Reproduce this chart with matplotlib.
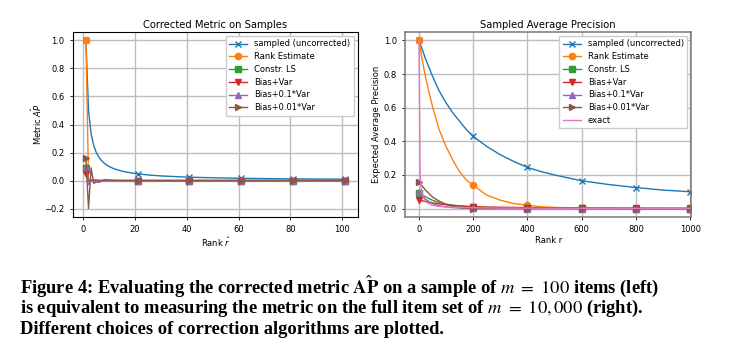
import matplotlib
matplotlib.use('Agg')
import matplotlib.pyplot as plt

# Left panel: corrected metric on a sample of 100 items
leftRank = [1, 2, 3, 4, 5, 6, 7, 8, 9, 10, 12, 15, 18, 21, 25, 30, 35, 41, 50, 61, 70, 81, 90, 101]
leftSampled = [1.0, 0.5, 0.333, 0.25, 0.2, 0.167, 0.143, 0.125, 0.111, 0.1, 0.083, 0.067,
               0.056, 0.048, 0.04, 0.033, 0.029, 0.024, 0.02, 0.016, 0.014, 0.012, 0.011, 0.01]
leftRankEst = [1.0, 0.0, 0.0, 0.0, 0.0, 0.0, 0.0, 0.0, 0.0, 0.0, 0.0, 0.0,
               0.0, 0.0, 0.0, 0.0, 0.0, 0.0, 0.0, 0.0, 0.0, 0.0, 0.0, 0.0]
leftLS = [0.09, 0.0, 0.0, 0.0, 0.0, 0.0, 0.0, 0.0, 0.0, 0.0, 0.0, 0.0,
          0.0, 0.0, 0.0, 0.0, 0.0, 0.0, 0.0, 0.0, 0.0, 0.0, 0.0, 0.0]
leftBV = [0.05, 0.0, 0.0, 0.0, 0.0, 0.0, 0.0, 0.0, 0.0, 0.0, 0.0, 0.0,
          0.0, 0.0, 0.0, 0.0, 0.0, 0.0, 0.0, 0.0, 0.0, 0.0, 0.0, 0.0]
leftBV01 = [0.10, -0.03, 0.005, 0.006, 0.005, 0.003, 0.002, 0.001, 0.0, 0.0, 0.0, 0.0,
            0.0, 0.0, 0.0, 0.0, 0.0, 0.0, 0.0, 0.0, 0.0, 0.0, 0.0, 0.0]
leftBV001 = [0.16, -0.20, 0.09, -0.02, -0.01, -0.012, -0.004, 0.004, 0.006, 0.004, 0.001, 0.0,
             0.0, 0.0, 0.0, 0.0, 0.0, 0.0, 0.0, 0.0, 0.0, 0.0, 0.0, 0.0]
leftMarks = [0, 13, 17, 19, 21, 23]

# Right panel: expected average precision on the full set of 10,000 items
rightRank = [1, 5, 10, 25, 50, 75, 100, 125, 150, 175, 200, 250, 300, 350, 400, 450, 500,
             600, 700, 800, 900, 1000]
rightSampled = [1.0, 0.98, 0.96, 0.89, 0.79, 0.70, 0.63, 0.57, 0.52, 0.47, 0.43, 0.37, 0.32,
                0.28, 0.245, 0.22, 0.20, 0.165, 0.143, 0.125, 0.11, 0.10]
rightRankEst = [1.0, 0.96, 0.91, 0.78, 0.61, 0.47, 0.37, 0.29, 0.22, 0.17, 0.14, 0.08, 0.05,
                0.03, 0.02, 0.011, 0.007, 0.003, 0.001, 0.0, 0.0, 0.0]
rightLS = [0.09, 0.088, 0.085, 0.07, 0.05, 0.037, 0.027, 0.02, 0.016, 0.013, 0.011, 0.007,
           0.005, 0.004, 0.003, 0.002, 0.002, 0.001, 0.001, 0.0, 0.0, 0.0]
rightBV = [0.05, 0.049, 0.047, 0.042, 0.035, 0.028, 0.023, 0.019, 0.016, 0.013, 0.011, 0.009,
           0.008, 0.007, 0.006, 0.005, 0.005, 0.004, 0.003, 0.003, 0.002, 0.002]
rightBV01 = [0.10, 0.09, 0.08, 0.055, 0.03, 0.017, 0.01, 0.006, 0.004, 0.002, 0.001, 0.0,
             0.0, 0.0, 0.0, 0.0, 0.0, 0.0, 0.0, 0.0, 0.0, 0.0]
rightBV001 = [0.16, 0.15, 0.14, 0.11, 0.07, 0.045, 0.025, 0.013, 0.006, 0.002, 0.0, 0.0,
              0.0, 0.0, 0.0, 0.0, 0.0, 0.0, 0.0, 0.0, 0.0, 0.0]
rightExact = [1.0, 0.2, 0.1, 0.04, 0.02, 0.013, 0.01, 0.008, 0.007, 0.006, 0.005, 0.004,
              0.003, 0.003, 0.0025, 0.002, 0.002, 0.0017, 0.0014, 0.0012, 0.0011, 0.001]
rightMarks = [0, 10, 14, 17, 19, 21]

labels = ['sampled (uncorrected)', 'Rank Estimate', 'Constr. LS', 'Bias+Var',
          'Bias+0.1*Var', 'Bias+0.01*Var']
markers = ['x', 'o', 's', 'v', '^', '>']
colors = ['C0', 'C1', 'C2', 'C3', 'C4', 'C5']

plt.rcParams['font.family'] = 'DejaVu Sans'
plt.rcParams['font.size'] = 6


def styleAxes(ax):
    ax.grid(True, color='#bdbdbd', linewidth=1.0)
    ax.set_axisbelow(True)
    ax.tick_params(labelsize=6, length=2.5, width=0.6)


def plotSeries(ax, x, seriesList, marks):
    for ys, lab, mk, col in zip(seriesList, labels, markers, colors):
        ax.plot(x, ys, color=col, marker=mk, markevery=marks, markersize=4.5,
                linewidth=1.0, label=lab)


def addLegend(ax):
    ax.legend(loc='upper right', fontsize=6, fancybox=False, handlelength=2.2,
              borderpad=0.4, labelspacing=0.45, framealpha=1, edgecolor='#cccccc')


fig = plt.figure(figsize=(7.3, 3.52), dpi=100)

ax1 = fig.add_axes([0.100, 0.3835, 0.390, 0.5256])
plotSeries(ax1, leftRank, [leftSampled, leftRankEst, leftLS, leftBV, leftBV01, leftBV001], leftMarks)
styleAxes(ax1)
ax1.set_xlim(-4, 106)
ax1.set_ylim(-0.26, 1.06)
ax1.set_title('Corrected Metric on Samples', fontsize=7.2, pad=3)
ax1.set_xlabel(r'Rank $\hat{r}$', fontsize=6, labelpad=1)
ax1.set_ylabel(r'Metric $\hat{AP}$', fontsize=6, labelpad=0.5)
addLegend(ax1)

ax2 = fig.add_axes([0.555, 0.3835, 0.392, 0.5256])
plotSeries(ax2, rightRank, [rightSampled, rightRankEst, rightLS, rightBV, rightBV01, rightBV001], rightMarks)
ax2.plot(rightRank, rightExact, color='C6', linewidth=1.0, label='exact')
styleAxes(ax2)
ax2.set_xlim(-50, 1003)
ax2.set_ylim(-0.05, 1.05)
for sp in ax2.spines.values():
    sp.set_color('#777777')
    sp.set_linewidth(1.1)
ax2.set_title('Sampled Average Precision', fontsize=7.2, pad=3)
ax2.set_xlabel('Rank r', fontsize=6, labelpad=1)
ax2.set_ylabel('Expected Average Precision', fontsize=6, labelpad=2)
addLegend(ax2)

# Caption below the panels
captionLines = [
    r'Figure 4: Evaluating the corrected metric $\hat{\mathbf{AP}}$ on a sample of $m\ =\ 100$ items (left)',
    r'is equivalent to measuring the metric on the full item set of $m\ =\ 10,000$ (right).',
    'Different choices of correction algorithms are plotted.',
]
captionY = [0.1875, 0.125, 0.0625]
for line, y in zip(captionLines, captionY):
    fig.text(20 / 730, y, line, fontsize=13.3, fontweight='bold', family='Liberation Serif',
             math_fontfamily='stix', ha='left', va='center')

fig.savefig('out.png', dpi=100)
